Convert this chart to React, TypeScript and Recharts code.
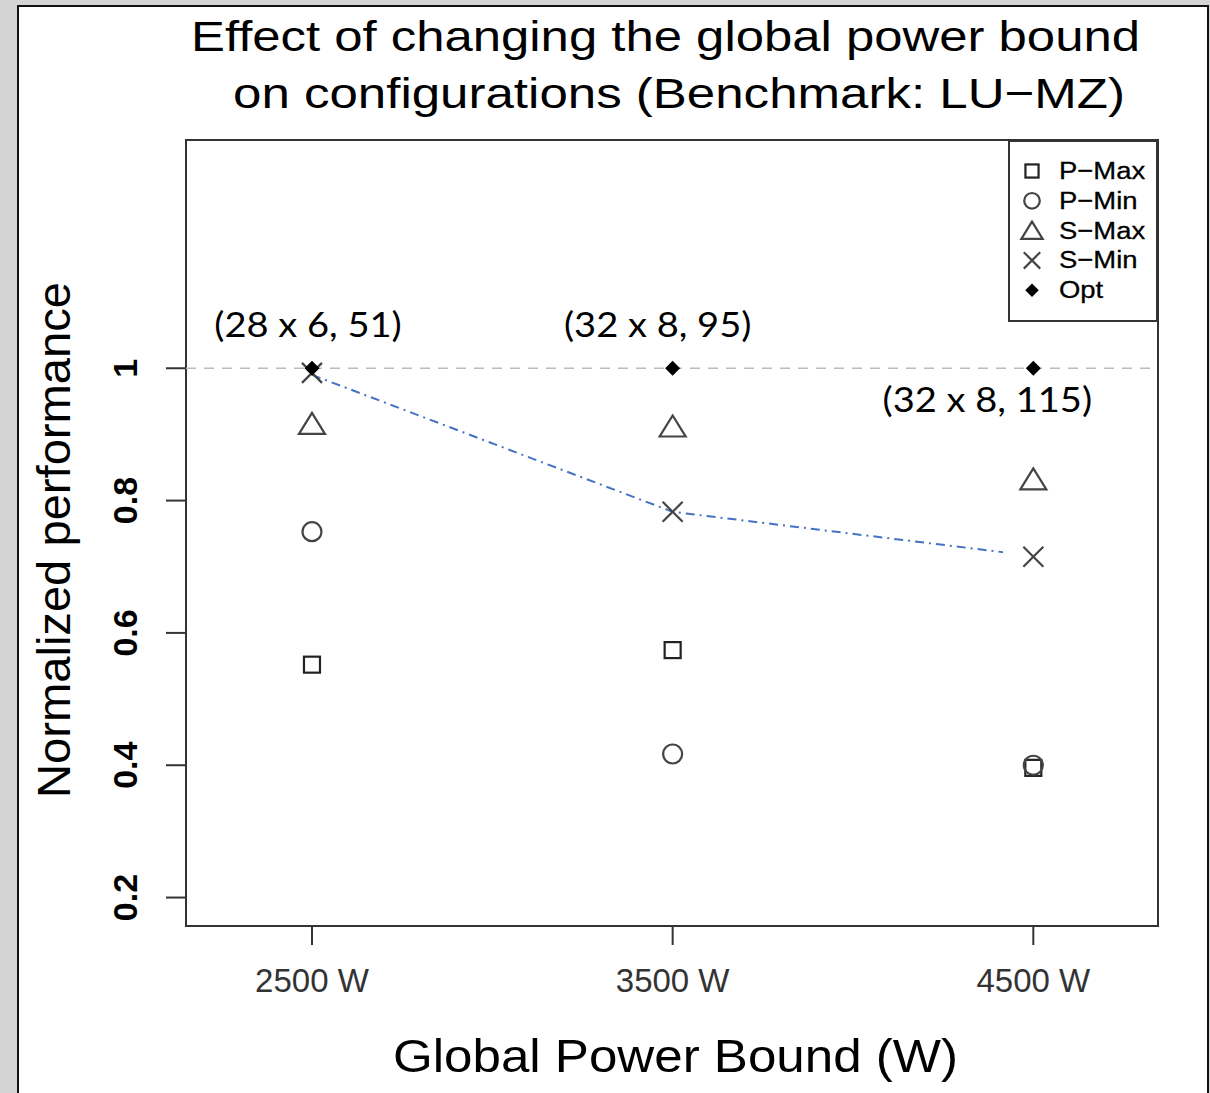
import React from 'react';
import {
  ComposedChart,
  Scatter,
  Line,
  XAxis,
  YAxis,
  ReferenceLine,
  ReferenceArea,
  Legend,
} from 'recharts';

// ---------- data ----------
const powerBounds = [2500, 3500, 4500];
const pMax = [0.552, 0.574, 0.396];
const pMin = [0.753, 0.417, 0.4];
const sMax = [0.916, 0.912, 0.832];
const sMin = [0.993, 0.783, 0.715];
const opt = [1, 1, 1];
const trendX = [2500, 3500, 4416];
const trendY = [0.99, 0.783, 0.722];
const annotationLabels = ['(28 x 6, 51)', '(32 x 8, 95)', '(32 x 8, 115)'];
const xTicks = [2500, 3500, 4500];
const yTicks = [0.2, 0.4, 0.6, 0.8, 1];
const seriesNames = ['P\u2212Max', 'P\u2212Min', 'S\u2212Max', 'S\u2212Min', 'Opt'];

// ---------- styling ----------
const X_DOMAIN: [number, number] = [2150.7, 4845.7];
const Y_DOMAIN: [number, number] = [0.157, 1.345];
const annotationOffsets = [
  [-4, -31],
  [-15, -31],
  [-46, 44],
];
const R_FONT = '"Liberation Sans", Arial, sans-serif';

type Kind = 'square' | 'circle' | 'triangle' | 'cross' | 'diamond';
const kinds: Kind[] = ['square', 'circle', 'triangle', 'cross', 'diamond'];

function marker(kind: Kind, cx: number, cy: number, s: number) {
  switch (kind) {
    case 'square': {
      const h = 8 * s;
      return <rect x={cx - h} y={cy - h} width={2 * h} height={2 * h} fill="none" stroke="#222" strokeWidth={2.2} />;
    }
    case 'circle':
      return <circle cx={cx} cy={cy} r={9.5 * s} fill="none" stroke="#444" strokeWidth={2.2} />;
    case 'triangle':
      return (
        <polygon
          points={`${cx},${cy - 11 * s} ${cx - 13 * s},${cy + 10 * s} ${cx + 13 * s},${cy + 10 * s}`}
          fill="none"
          stroke="#444"
          strokeWidth={2.2}
        />
      );
    case 'cross': {
      const h = 10 * s;
      return (
        <g stroke="#444" strokeWidth={2.2}>
          <line x1={cx - h} y1={cy - h} x2={cx + h} y2={cy + h} />
          <line x1={cx - h} y1={cy + h} x2={cx + h} y2={cy - h} />
        </g>
      );
    }
    case 'diamond': {
      const h = 7.5 * s;
      return <polygon points={`${cx},${cy - h} ${cx + h},${cy} ${cx},${cy + h} ${cx - h},${cy}`} fill="#000" />;
    }
  }
  return null;
}

const makeShape = (kind: Kind) => (props: any) => {
  const { cx, cy } = props;
  if (cx == null || cy == null) return <g />;
  return marker(kind, cx, cy, 1);
};

const seriesValues = [pMax, pMin, sMax, sMin, opt];
const seriesData = seriesValues.map((vals) => powerBounds.map((x, i) => ({ x, y: vals[i] })));
const trendData = trendX.map((x, i) => ({ x, y: trendY[i] }));
const annotationData = powerBounds.map((x, i) => ({ x, y: opt[i], label: annotationLabels[i], idx: i }));

const AnnotationShape = (props: any) => {
  const { cx, cy } = props;
  const p = props.payload || props;
  const idx = p.idx ?? 0;
  const [dx, dy] = annotationOffsets[idx];
  return (
    <text
      transform={`translate(${cx + dx}, ${cy + dy}) scale(1.12, 1)`}
      textAnchor="middle"
      fontFamily="Lato, 'Open Sans', sans-serif"
      fontSize={34}
      fill="#000"
    >
      {p.label}
    </text>
  );
};

const YTick = (props: any) => {
  const { x, y, payload } = props;
  const tx = x - 29;
  return (
    <text
      x={tx}
      y={y}
      transform={`rotate(-90, ${tx}, ${y})`}
      textAnchor="middle"
      fontFamily={R_FONT}
      fontSize={34}
      fontWeight="bold"
      fill="#000"
    >
      {String(payload.value)}
    </text>
  );
};

const XTick = (props: any) => {
  const { x, y, payload } = props;
  return (
    <text x={x} y={y + 47} textAnchor="middle" fontFamily={R_FONT} fontSize={33} fill="#333">
      {`${payload.value} W`}
    </text>
  );
};

const LegendBox = (props: any) => {
  const payload: any[] = props.payload || [];
  const names = payload.map((e) => e.value);
  const entries = seriesNames.filter((n) => names.includes(n));
  return (
    <svg width={150} height={182} style={{ display: 'block' }}>
      <rect x={1} y={1} width={148} height={180} fill="#fff" stroke="#333" strokeWidth={2} />
      {entries.map((name, i) => {
        const k = kinds[seriesNames.indexOf(name)];
        const cy = 31 + i * 29.8;
        return (
          <g key={name}>
            {marker(k, 24, cy, k === 'diamond' ? 0.9 : 0.82)}
            <text
              transform={`translate(51, ${cy + 8}) scale(1.12, 1)`}
              fontFamily={R_FONT}
              fontSize={24.5}
              fill="#000"
              stroke="#000"
              strokeWidth={0.3}
            >
              {name}
            </text>
          </g>
        );
      })}
    </svg>
  );
};

export default function App() {
  return (
    <div
      style={{
        position: 'absolute',
        left: 0,
        top: 0,
        width: 1210,
        height: 1093,
        background: '#d4d4d4',
        overflow: 'hidden',
      }}
    >
      <div
        style={{
          position: 'absolute',
          left: 17,
          top: 5,
          width: 1192,
          height: 1200,
          boxSizing: 'border-box',
          border: '2px solid #111',
          background: '#fff',
        }}
      />
      <div style={{ position: 'absolute', left: 0, top: 0 }}>
        <ComposedChart
          width={1210}
          height={1093}
          margin={{ top: 140, right: 52, bottom: 107, left: 106 }}
        >
          <XAxis
            type="number"
            dataKey="x"
            domain={X_DOMAIN}
            ticks={xTicks}
            allowDataOverflow
            axisLine={false}
            tickLine={{ stroke: '#333', strokeWidth: 2 }}
            tickSize={19}
            tickMargin={0}
            height={60}
            tick={<XTick />}
          />
          <YAxis
            type="number"
            dataKey="y"
            domain={Y_DOMAIN}
            ticks={yTicks}
            allowDataOverflow
            axisLine={false}
            tickLine={{ stroke: '#333', strokeWidth: 2 }}
            tickSize={20}
            tickMargin={0}
            width={80}
            tick={<YTick />}
          />
          <ReferenceArea
            x1={X_DOMAIN[0]}
            x2={X_DOMAIN[1]}
            y1={Y_DOMAIN[0]}
            y2={Y_DOMAIN[1]}
            fill="none"
            fillOpacity={0}
            stroke="#333"
            strokeWidth={2}
            ifOverflow="visible"
          />
          <ReferenceLine y={1} stroke="#bbb" strokeWidth={1.5} strokeDasharray="10 8" />
          <Line
            data={trendData}
            dataKey="y"
            type="linear"
            stroke="#4472C4"
            strokeWidth={2}
            strokeDasharray="9 5 2 5"
            dot={false}
            activeDot={false}
            legendType="none"
            isAnimationActive={false}
          />
          {seriesNames.map((name, i) => (
            <Scatter
              key={name}
              name={name}
              data={seriesData[i]}
              dataKey="y"
              shape={makeShape(kinds[i])}
              isAnimationActive={false}
            />
          ))}
          <Scatter
            name="annotations"
            data={annotationData}
            dataKey="y"
            shape={<AnnotationShape />}
            legendType="none"
            isAnimationActive={false}
          />
          <Legend
            layout="vertical"
            align="center"
            verticalAlign="middle"
            wrapperStyle={{ left: 1008, top: 140, width: 150, height: 182, margin: 0, padding: 0 }}
            content={<LegendBox />}
          />
        </ComposedChart>
      </div>
      <svg
        width={1210}
        height={1093}
        style={{ position: 'absolute', left: 0, top: 0, pointerEvents: 'none' }}
      >
        <text x={191} y={51} fontFamily={R_FONT} fontSize={43} fill="#000" textLength={949} lengthAdjust="spacingAndGlyphs">
          Effect of changing the global power bound
        </text>
        <text x={233} y={108} fontFamily={R_FONT} fontSize={43} fill="#000" textLength={892} lengthAdjust="spacingAndGlyphs">
          on configurations (Benchmark: LU{'\u2212'}MZ)
        </text>
        <text x={393} y={1072} fontFamily={R_FONT} fontSize={47} fill="#000" textLength={565} lengthAdjust="spacingAndGlyphs">
          Global Power Bound (W)
        </text>
        <text
          x={70}
          y={540}
          transform="rotate(-90, 70, 540)"
          textAnchor="middle"
          fontFamily={R_FONT}
          fontSize={46}
          fill="#000"
          textLength={516}
          lengthAdjust="spacingAndGlyphs"
        >
          Normalized performance
        </text>
      </svg>
    </div>
  );
}
